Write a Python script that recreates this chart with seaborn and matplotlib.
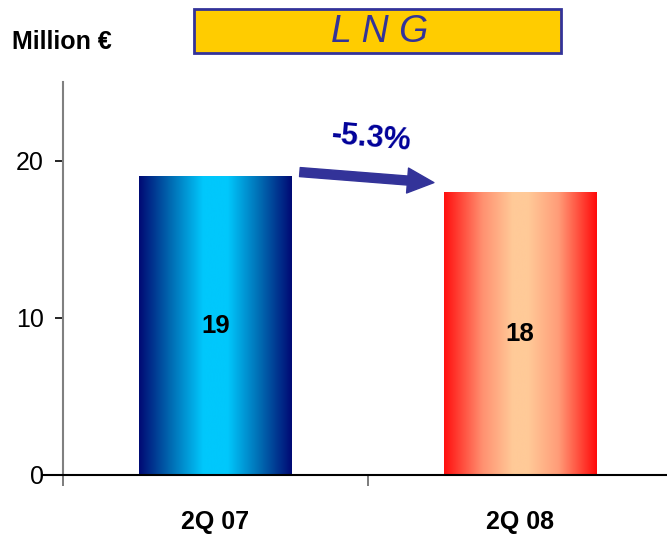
import numpy as np
import pandas as pd
import matplotlib
matplotlib.use("Agg")
import matplotlib.pyplot as plt
from matplotlib.colors import LinearSegmentedColormap
from matplotlib.patches import Rectangle, FancyArrowPatch
import seaborn as sns

# Data
quarters = ["2Q 07", "2Q 08"]
revenue = [19, 18]
change_label = "-5.3%"
title = "L N G"
unit_label = "Million €"
y_ticks = [0, 10, 20]

sns.set_theme(style="white")
plt.rcParams["font.family"] = ["Liberation Sans", "DejaVu Sans"]
plt.rcParams["text.color"] = "black"
plt.rcParams["xtick.color"] = "black"
plt.rcParams["ytick.color"] = "black"

fig = plt.figure(figsize=(6.67, 5.36), dpi=100)
ax = fig.add_axes([63 / 667, 61 / 536, 609 / 667, 393 / 536])

df = pd.DataFrame({"quarter": quarters, "value": revenue})
sns.barplot(data=df, x="quarter", y="value", ax=ax, width=0.5,
            color="white", saturation=1, errorbar=None)

cmaps = [
    LinearSegmentedColormap.from_list(
        "blue_bar", [(0, "#000A74"), (0.2, "#0068B0"), (0.42, "#00C8FC"),
                     (0.58, "#00C8FC"), (0.8, "#0068B0"), (1, "#000A74")]),
    LinearSegmentedColormap.from_list(
        "red_bar", [(0, "#FF0F0F"), (0.25, "#FF9070"), (0.45, "#FFCA98"),
                    (0.55, "#FFCA98"), (0.75, "#FF9C78"), (1, "#FF0A0A")]),
]
grad = np.linspace(0, 1, 256).reshape(1, -1)
for patch, cmap, val in zip(ax.patches, cmaps, revenue):
    x0, y0 = patch.get_x(), patch.get_y()
    w, h = patch.get_width(), patch.get_height()
    im = ax.imshow(grad, cmap=cmap, aspect="auto", interpolation="bicubic",
                   extent=[x0, x0 + w, y0, y0 + h], zorder=2)
    im.set_clip_path(patch)
    patch.set_facecolor("none")
    patch.set_edgecolor("none")
    ax.text(x0 + w / 2, val / 2, str(val), ha="center", va="center",
            fontsize=18.5, fontweight="bold", color="black", zorder=3)

ax.set_xlim(-0.5, 1.5)
ax.set_ylim(0, 25)
ax.set_yticks(y_ticks)
ax.set_yticklabels([str(t) for t in y_ticks], fontsize=18)
ax.set_xlabel("")
ax.set_ylabel("")
ax.set_xticks(range(len(quarters)))
ax.set_xticklabels(quarters, fontweight="bold", fontsize=18)
ax.set_xticks([-0.5, 0.5], minor=True)
ax.tick_params(axis="x", which="major", length=0, pad=25)
ax.tick_params(axis="x", which="minor", length=8, width=1.2,
               color="#666666", direction="out", bottom=True)
ax.tick_params(axis="y", length=6, width=1.2, color="black",
               direction="out", left=True, pad=8)

for side in ["top", "right"]:
    ax.spines[side].set_visible(False)
ax.spines["left"].set_color("#808080")
ax.spines["left"].set_linewidth(1.5)
ax.spines["bottom"].set_color("black")
ax.spines["bottom"].set_linewidth(1.5)
ax.spines["bottom"].set_bounds(-0.57, 1.5)
ax.grid(False)

# Change arrow between the bars
arrow = FancyArrowPatch((0.278, 19.27), (0.718, 18.6),
                        arrowstyle="simple,head_length=19,head_width=18,tail_width=6.5",
                        mutation_scale=1, color="#333399",
                        shrinkA=0, shrinkB=0, zorder=4, clip_on=False)
ax.add_patch(arrow)
ax.text(0.511, 21.4, change_label, ha="center", va="center",
        fontsize=22, fontweight="bold", color="#000099",
        rotation=-5, zorder=4)

# Title box
fig.patches.append(Rectangle((194 / 667, 483 / 536), 367 / 667, 44 / 536,
                             transform=fig.transFigure, facecolor="#FFCC00",
                             edgecolor="#333399", linewidth=2))
fig.text(0.569, 0.941, title, ha="center", va="center", fontsize=27,
         fontstyle="italic", color="#333399")

fig.text(12 / 667, 487 / 536, unit_label, ha="left", va="baseline",
         fontsize=18, fontweight="bold", color="black")

fig.savefig("out.png", dpi=100)
